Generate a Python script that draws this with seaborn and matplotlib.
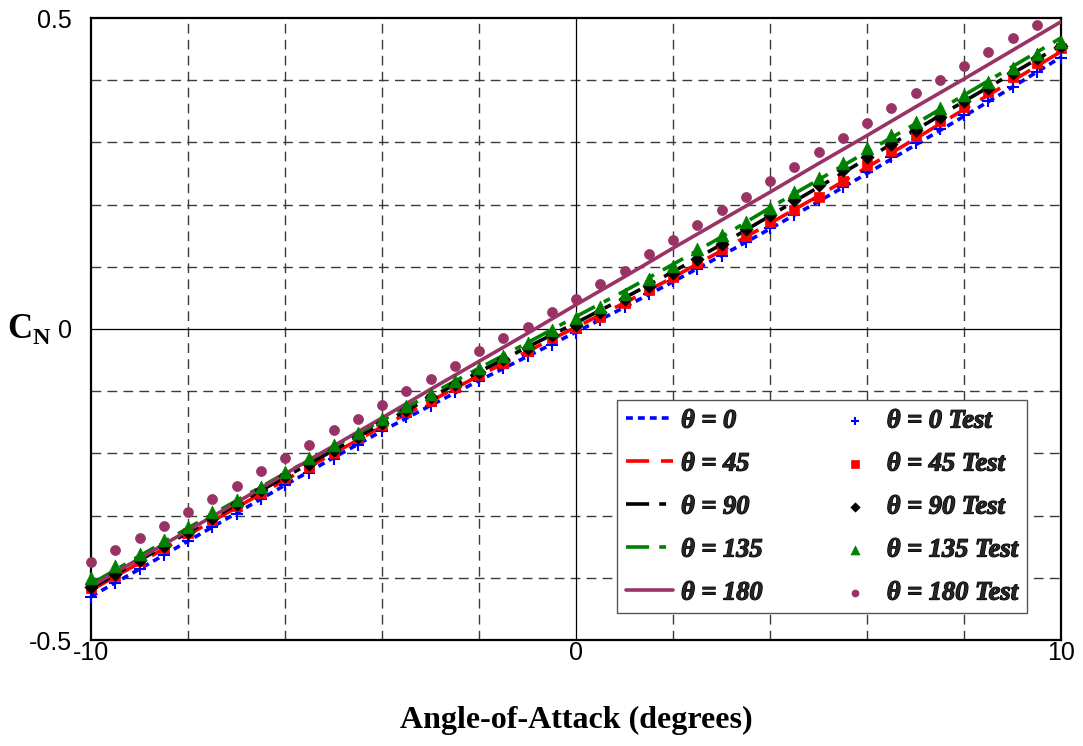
import matplotlib
matplotlib.use("Agg")
import matplotlib.pyplot as plt
import matplotlib.patheffects as pe
import numpy as np
import pandas as pd
import seaborn as sns
from matplotlib.ticker import FixedLocator
from matplotlib.font_manager import FontProperties

# ---------------- data ----------------
alpha_line = [-10, -9, -8, -7, -6, -5, -4, -3, -2, -1, 0,
              1, 2, 3, 4, 5, 6, 7, 8, 9, 10]
cn_line_0 = [-0.430, -0.386, -0.341, -0.296, -0.251, -0.207, -0.164, -0.123, -0.083, -0.044, -0.005,
             0.035, 0.076, 0.118, 0.161, 0.205, 0.250, 0.296, 0.342, 0.389, 0.437]
cn_line_45 = [-0.420, -0.376, -0.331, -0.287, -0.243, -0.200, -0.157, -0.116, -0.075, -0.036, 0.003,
              0.042, 0.083, 0.126, 0.170, 0.214, 0.260, 0.306, 0.353, 0.399, 0.446]
cn_line_90 = [-0.417, -0.372, -0.327, -0.282, -0.238, -0.195, -0.152, -0.110, -0.069, -0.029, 0.010,
              0.050, 0.092, 0.136, 0.182, 0.228, 0.274, 0.320, 0.366, 0.411, 0.456]
cn_line_135 = [-0.410, -0.365, -0.320, -0.276, -0.232, -0.189, -0.147, -0.105, -0.063, -0.022, 0.020,
               0.061, 0.104, 0.148, 0.195, 0.240, 0.285, 0.330, 0.376, 0.422, 0.468]
cn_line_180 = [-0.414, -0.369, -0.324, -0.279, -0.233, -0.188, -0.143, -0.097, -0.052, -0.007, 0.039,
               0.084, 0.130, 0.175, 0.220, 0.266, 0.311, 0.357, 0.402, 0.448, 0.494]

alpha_test = [-10, -9.5, -9, -8.5, -8, -7.5, -7, -6.5, -6, -5.5, -5, -4.5, -4, -3.5, -3, -2.5, -2, -1.5, -1, -0.5,
              0, 0.5, 1, 1.5, 2, 2.5, 3, 3.5, 4, 4.5, 5, 5.5, 6, 6.5, 7, 7.5, 8, 8.5, 9, 9.5, 10]
cn_test_0 = [-0.431, -0.408, -0.386, -0.363, -0.341, -0.319, -0.297, -0.273, -0.250, -0.231, -0.209,
             -0.187, -0.164, -0.142, -0.123, -0.102, -0.083, -0.063, -0.043, -0.025, -0.006,
             0.015, 0.035, 0.056, 0.077, 0.097, 0.118, 0.140, 0.162, 0.184, 0.207,
             0.228, 0.252, 0.276, 0.299, 0.321, 0.344, 0.367, 0.389, 0.413, 0.436]
cn_test_45 = [-0.416, -0.397, -0.373, -0.352, -0.328, -0.307, -0.284, -0.263, -0.240, -0.222, -0.199,
              -0.176, -0.155, -0.134, -0.115, -0.093, -0.074, -0.054, -0.036, -0.015, 0.002,
              0.020, 0.041, 0.062, 0.084, 0.106, 0.128, 0.149, 0.172, 0.192, 0.213,
              0.238, 0.263, 0.286, 0.310, 0.334, 0.357, 0.381, 0.405, 0.428, 0.452]
cn_test_90 = [-0.414, -0.394, -0.371, -0.349, -0.326, -0.304, -0.281, -0.259, -0.237, -0.217, -0.195,
              -0.173, -0.151, -0.130, -0.110, -0.089, -0.069, -0.049, -0.030, -0.010, 0.007,
              0.027, 0.049, 0.069, 0.090, 0.113, 0.136, 0.160, 0.184, 0.207, 0.231,
              0.255, 0.276, 0.297, 0.320, 0.341, 0.366, 0.387, 0.411, 0.436, 0.455]
cn_test_135 = [-0.400, -0.381, -0.362, -0.339, -0.318, -0.295, -0.275, -0.254, -0.230, -0.207, -0.186,
               -0.167, -0.144, -0.123, -0.104, -0.083, -0.063, -0.043, -0.023, -0.002, 0.017,
               0.036, 0.057, 0.080, 0.101, 0.128, 0.151, 0.172, 0.194, 0.221, 0.242,
               0.267, 0.291, 0.312, 0.333, 0.355, 0.376, 0.397, 0.420, 0.442, 0.461]
cn_test_180 = [-0.374, -0.355, -0.336, -0.316, -0.294, -0.273, -0.252, -0.229, -0.207, -0.186, -0.163,
               -0.144, -0.122, -0.099, -0.080, -0.059, -0.036, -0.015, 0.004, 0.027, 0.049,
               0.073, 0.094, 0.120, 0.143, 0.167, 0.191, 0.213, 0.238, 0.260, 0.284,
               0.307, 0.331, 0.355, 0.379, 0.400, 0.423, 0.445, 0.468, 0.489, np.nan]

line_labels = ["θ = 0", "θ = 45", "θ = 90", "θ = 135", "θ = 180"]
test_labels = ["θ = 0 Test", "θ = 45 Test", "θ = 90 Test", "θ = 135 Test", "θ = 180 Test"]
x_ticks = [-10, 0, 10]
y_ticks = [-0.5, 0, 0.5]
y_tick_labels = ["-0.5", "0", "0.5"]

# ---------------- styling ----------------
sns.set_theme(style="white")
plt.rcParams["font.family"] = ["Liberation Sans", "DejaVu Sans"]
plt.rcParams["mathtext.fontset"] = "custom"
plt.rcParams["mathtext.rm"] = "Liberation Serif"
plt.rcParams["mathtext.bf"] = "Liberation Serif:bold"

colors = ["#0000FF", "#FF0000", "#000000", "#008000", "#993366"]
line_styles = [(0, (1.9, 1.4)), (0, (6.4, 3.3)), (0, (6.4, 2.8, 1.9, 2.8)),
               (0, (6.4, 2.8, 1.9, 2.8)), "-"]
markers = ["+", "s", "D", "^", "o"]
msizes = [80, 55, 45, 85, 52]

fig = plt.figure(figsize=(10.83, 7.46), dpi=100)
ax = fig.add_axes([91 / 1083, 1 - 640 / 746, 970 / 1083, 622 / 746])

line_data = [cn_line_0, cn_line_45, cn_line_90, cn_line_135, cn_line_180]
test_data = [cn_test_0, cn_test_45, cn_test_90, cn_test_135, cn_test_180]

for i, (vals, lab) in enumerate(zip(line_data, line_labels)):
    df = pd.DataFrame({"alpha": alpha_line, "cn": vals})
    sns.lineplot(data=df, x="alpha", y="cn", ax=ax, color=colors[i], lw=2.6,
                 linestyle=line_styles[i], label=lab, zorder=3, sort=False)

for i, (vals, lab) in enumerate(zip(test_data, test_labels)):
    df = pd.DataFrame({"alpha": alpha_test, "cn": vals}).dropna()
    if markers[i] == "+":
        sns.scatterplot(data=df, x="alpha", y="cn", ax=ax, color=colors[i], marker="+",
                        s=msizes[i], linewidth=1.5, label=lab, zorder=4, clip_on=False)
    else:
        sns.scatterplot(data=df, x="alpha", y="cn", ax=ax, color=colors[i], marker=markers[i],
                        s=msizes[i], edgecolor=colors[i], linewidth=0.5, label=lab,
                        zorder=4 + i * 0.1, clip_on=False)

ax.set_xlim(-10, 10)
ax.set_ylim(-0.5, 0.5)

# grid
for xv in [-8, -6, -4, -2, 2, 4, 6, 8]:
    ax.axvline(xv, color="#3a3a3a", lw=1.0, linestyle=(0, (7, 4.5)), zorder=1)
for yv in [-0.4, -0.3, -0.2, -0.1, 0.1, 0.2, 0.3, 0.4]:
    ax.axhline(yv, color="#3a3a3a", lw=1.0, linestyle=(0, (7, 4.5)), zorder=1)
ax.axvline(0, color="black", lw=0.9, zorder=1)
ax.axhline(0, color="black", lw=0.9, zorder=1)

ax.xaxis.set_major_locator(FixedLocator(x_ticks))
ax.yaxis.set_major_locator(FixedLocator(y_ticks))
ax.set_xticklabels([str(v) for v in x_ticks])
ax.set_yticklabels(y_tick_labels)
ax.tick_params(axis="both", length=0, labelsize=18, colors="black")
ax.tick_params(axis="x", pad=1)
ax.tick_params(axis="y", pad=14)

for sp in ax.spines.values():
    sp.set_visible(True)
    sp.set_color("black")
    sp.set_linewidth(1.6)

ax.set_xlabel("Angle-of-Attack (degrees)", fontsize=23, fontweight="bold",
              family=["Liberation Serif"], color="black")
ax.xaxis.set_label_coords(0.5, -0.13)
ax.xaxis.label.set_va("center")
ax.set_ylabel(r"$\mathbf{C}_{\mathbf{N}}$", fontsize=25, rotation=0, color="black")
ax.yaxis.set_label_coords(-0.064, 0.5)
ax.yaxis.label.set_va("center")
ax.yaxis.label.set_ha("center")

leg_font = FontProperties(family="Liberation Serif", style="italic", weight=700, size=19)
handles, labels = ax.get_legend_handles_labels()
leg = ax.legend(handles, labels, ncol=2, loc="lower right", bbox_to_anchor=(0.965, 0.043),
                borderaxespad=0, frameon=True, fancybox=False, framealpha=1,
                edgecolor="#555555", handlelength=1.8, handletextpad=0.3, columnspacing=2.6,
                labelspacing=0.74, borderpad=0.33, markerscale=0.7, prop=leg_font)
leg.get_frame().set_linewidth(1.0)
leg.set_zorder(10)
for t in leg.get_texts():
    t.set_path_effects([pe.withStroke(linewidth=0.9, foreground="black")])

fig.savefig("out.png", dpi=100)
